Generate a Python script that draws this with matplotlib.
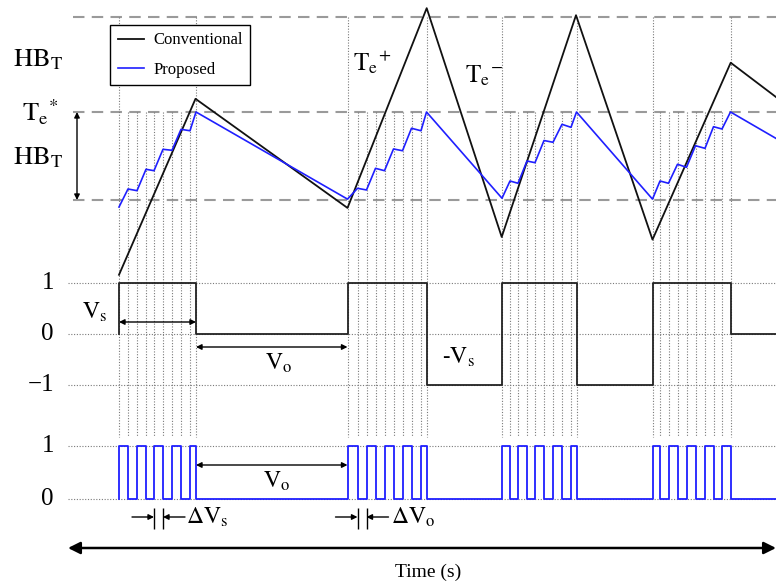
import matplotlib.pyplot as plt
import numpy as np

plt.rcParams['font.family'] = ['Liberation Serif', 'DejaVu Serif']
plt.rcParams['mathtext.fontset'] = 'stix'

# torque in band units: Te* = 0, lower hysteresis edge = -1
band_hi = 1.08
band_lo = -1.0

# conventional DTC torque (triangle) and its switching state
conv_t = [119, 195.5, 347.5, 426.7, 501.7, 576, 652.5, 730.7, 776]
conv_T = [-1.85, 0.15, -1.09, 1.18, -1.42, 1.10, -1.45, 0.56, 0.17]
sw_t = [119, 119, 195.5, 347.5, 426.5, 502, 576.5, 652.5, 730.5, 776]
sw_v = [0, 1, 0, 1, -1, 1, -1, 1, 0, 0]

# proposed: pulse edges (rise, fall, rise, ...) for each switching cycle
edges_1 = [119, 128, 137, 146, 154, 163, 172, 181, 190, 196]
edges_2 = [347.5, 357.5, 366.5, 375.5, 384.5, 393.5, 402.5, 411.5, 421, 426.5]
edges_3 = [502, 510, 518, 527, 535, 544, 553, 562, 571, 576.5]
edges_4 = [652.5, 660, 668.5, 677.5, 686.5, 695.5, 705, 713.5, 722, 730.5]
prop_T_1 = [-1.08, -0.875, -0.894, -0.651, -0.667, -0.424, -0.435, -0.197, -0.213, 0.0]
prop_T_2 = [-0.99, -0.867, -0.886, -0.64, -0.667, -0.42, -0.44, -0.185, -0.213, 0.0]
prop_T_3 = [-0.98, -0.784, -0.81, -0.557, -0.576, -0.324, -0.344, -0.14, -0.174, 0.0]
prop_T_4 = [-0.99, -0.784, -0.81, -0.594, -0.628, -0.383, -0.413, -0.167, -0.193, 0.0]
t_end, prop_T_end = 776, -0.30

cycles = [edges_1, edges_2, edges_3, edges_4]
prop_t = sum(cycles, []) + [t_end]
prop_T = prop_T_1 + prop_T_2 + prop_T_3 + prop_T_4 + [prop_T_end]
pulse_t = [119] + sum(cycles, []) + [t_end]
pulse_v = [0] + [1, 0] * 5 * len(cycles) + [0]


# vertical placement of the three traces on the sheet
def ty(T):
    return 112 - 88 * np.asarray(T, dtype=float)


def sy(v):
    return 334 - 51 * np.asarray(v, dtype=float)


def py(v):
    return 499 - 53 * np.asarray(v, dtype=float)


fig = plt.figure(figsize=(7.76, 5.82), dpi=100)
ax = fig.add_axes([0, 0, 1, 1])
ax.set_xlim(0, 776)
ax.set_ylim(582, 0)
ax.axis('off')

grey = '#9a9a9a'
dot = '#7a7a7a'

# hysteresis band
ax.hlines(ty([band_hi, 0, band_lo]), 73, 776, colors=grey, lw=1.5,
          linestyles=(0, (5.5, 3.5)), zorder=1)
# level lines
ax.hlines(list(sy([1, 0, -1])) + list(py([1, 0])), 68, 776, colors=dot,
          lw=0.8, linestyles=(0, (1, 1.5)), zorder=1)
# switching instants
for e in cycles:
    ax.vlines([e[0], e[-1]], ty(band_hi), 437, colors=dot, lw=0.8,
              linestyles=(0, (1, 1.5)), zorder=1)
    ax.vlines(e[1:-1], ty(0), 437, colors=dot, lw=0.8,
              linestyles=(0, (1, 1.5)), zorder=1)

ax.plot(conv_t, ty(conv_T), color='#111111', lw=1.3, label='Conventional', zorder=3)
ax.plot(prop_t, ty(prop_T), color='#1f1fff', lw=1.2, label='Proposed', zorder=3)
ax.plot(sw_t, sy(sw_v), color='#222222', lw=1.3, drawstyle='steps-post', zorder=3)
ax.plot(pulse_t, py(pulse_v), color='#1f1fff', lw=1.3, drawstyle='steps-post', zorder=3)

leg = ax.legend(loc='upper left', bbox_to_anchor=(110 / 776, 1 - 25 / 582),
                borderaxespad=0, fontsize=12, handlelength=1.6,
                handletextpad=0.55, labelspacing=0.8, borderpad=0.45,
                fancybox=False, framealpha=1, edgecolor='black')
leg.get_frame().set_linewidth(1.0)
leg.set_zorder(5)

# labels on the left
fs = 18
ax.text(13, 60, r'$\mathrm{HB_T}$', fontsize=19, ha='left', va='center')
ax.text(13, 158, r'$\mathrm{HB_T}$', fontsize=19, ha='left', va='center')
ax.text(58, 112, r'$\mathrm{{T_e}^{*}}$', fontsize=19, ha='right', va='center')
for lab, y in [('1', sy(1)), ('0', sy(0)), ('\u22121', sy(-1)), ('1', py(1)), ('0', py(0))]:
    ax.text(54, y, lab, fontsize=fs, ha='right', va='center')

ax.text(353, 62, r'$\mathrm{{T_e}^{+}}$', fontsize=18, ha='left', va='center')
ax.text(465, 76, r'$\mathrm{{T_e}^{-}}$', fontsize=18, ha='left', va='center')

arr = dict(arrowstyle='<|-|>', color='k', lw=1.0, mutation_scale=8,
           shrinkA=0, shrinkB=0)
one = dict(arrowstyle='-|>', color='k', lw=1.0, mutation_scale=8,
           shrinkA=0, shrinkB=0)
ax.annotate('', xy=(77, ty(band_lo)), xytext=(77, ty(0)), arrowprops=arr)
ax.annotate('', xy=(edges_1[-1], 322), xytext=(edges_1[0], 322), arrowprops=arr)
ax.annotate('', xy=(edges_2[0], 347), xytext=(edges_1[-1], 347), arrowprops=arr)
ax.annotate('', xy=(edges_2[0], 465), xytext=(edges_1[-1], 465), arrowprops=arr)
ax.text(82, 312, r'$\mathrm{V_s}$', fontsize=17, ha='left', va='center')
ax.text(265, 363, r'$\mathrm{V_o}$', fontsize=17, ha='left', va='center')
ax.text(442, 357, r'$\mathrm{\text{-}V_s}$', fontsize=17, ha='left', va='center')
ax.text(263, 481, r'$\mathrm{V_o}$', fontsize=17, ha='left', va='center')

# pulse width markers
for a, b, lab, xl in [(edges_1[4], edges_1[5], r'$\mathrm{\Delta V_s}$', 186),
                      (edges_2[1], edges_2[2], r'$\mathrm{\Delta V_o}$', 391)]:
    ax.vlines([a, b], 508, 529, colors='k', lw=1.0)
    ax.annotate('', xy=(a, 517), xytext=(a - 22, 517), arrowprops=one)
    ax.annotate('', xy=(b, 517), xytext=(b + 22, 517), arrowprops=one)
    ax.text(xl, 517, lab, fontsize=17, ha='left', va='center')

# time axis
ax.annotate('', xy=(776, 548), xytext=(68, 548),
            arrowprops=dict(arrowstyle='<|-|>', color='k', lw=1.8,
                            mutation_scale=18, shrinkA=0, shrinkB=0))
ax.text(428, 572, 'Time (s)', fontsize=14, ha='center', va='center')

fig.savefig('out.png', dpi=100)
